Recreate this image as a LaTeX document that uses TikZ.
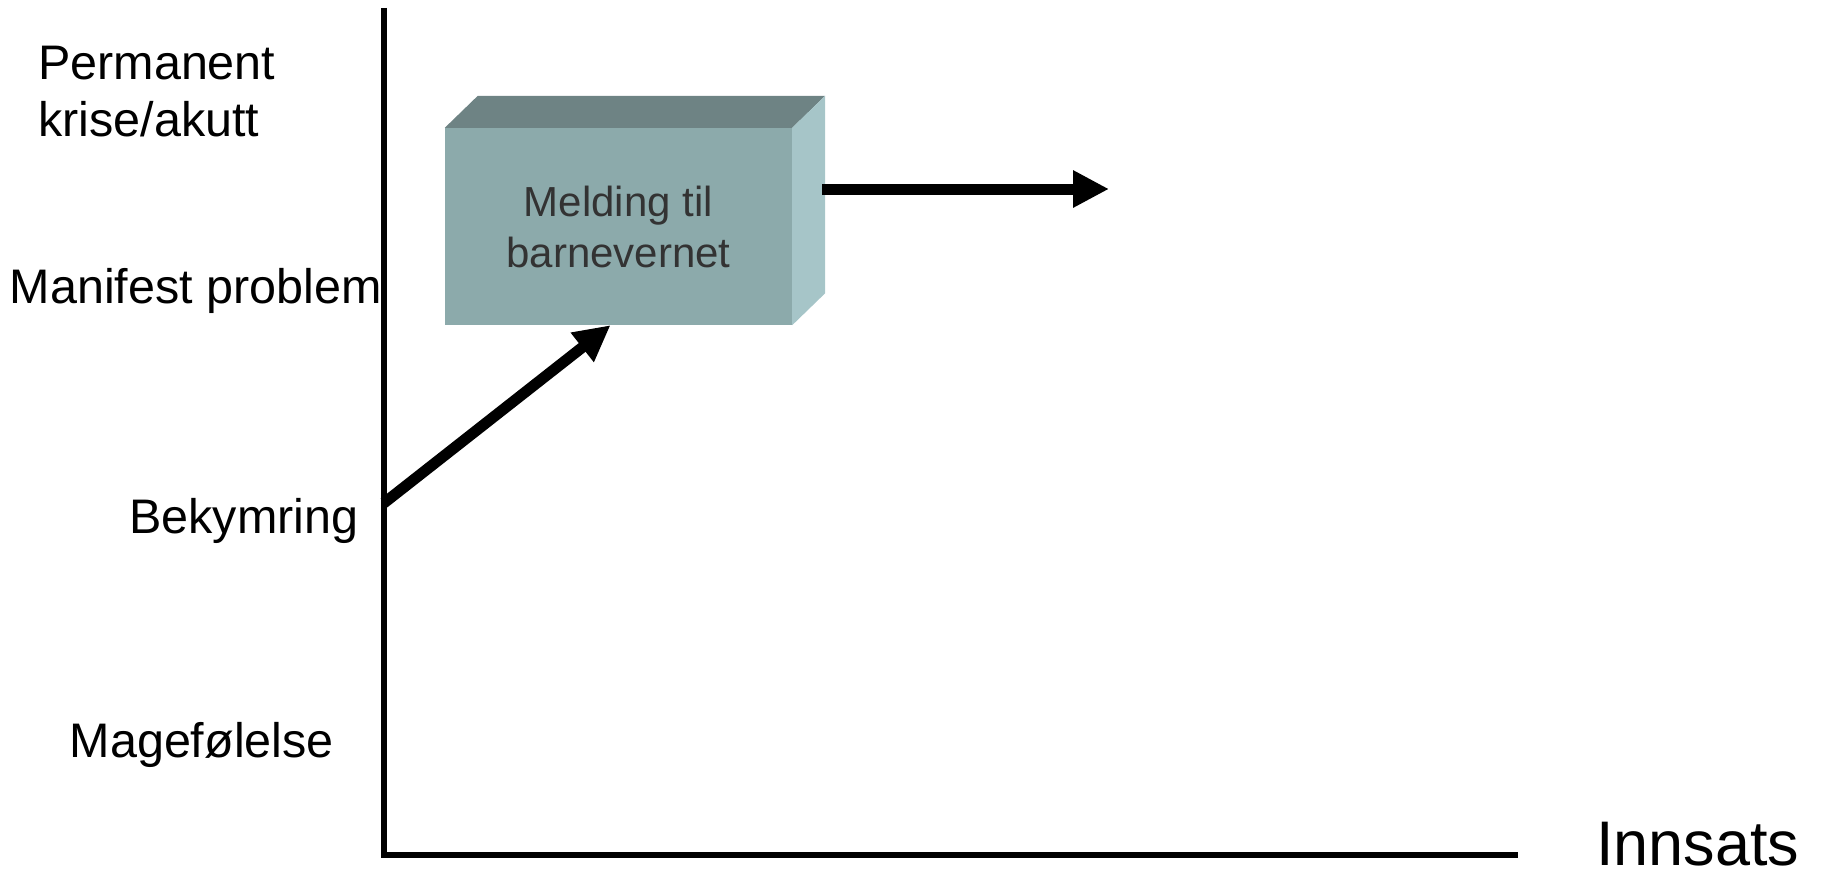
\documentclass[tikz,border=0pt]{standalone}
\usepackage{fontspec}
\setmainfont{Liberation Sans}
\usepackage{tikz}
\usetikzlibrary{arrows.meta,calc,positioning}
\definecolor{frontcol}{HTML}{8CAAAB}
\definecolor{topcol}{HTML}{6E8384}
\definecolor{sidecol}{HTML}{A6C5C8}
\definecolor{textcol}{HTML}{333333}
\tikzstyle{level} = [inner sep=0pt, align=left, font=\fontsize{48.5}{56}\selectfont]
\tikzstyle{block} = [rectangle, minimum width=347pt, minimum height=197pt, inner sep=0pt, text centered, fill=frontcol, text=textcol, align=center, font=\fontsize{42}{51}\selectfont]
\tikzstyle{axis} = [line width=6pt, line join=miter]
\tikzstyle{flow} = [->, line width=11pt]

\begin{document}
\begin{tikzpicture}[x=1pt,y=-1pt,>={Triangle[length=36pt,width=35pt]}]
            \useasboundingbox (0,0) rectangle (1825,872);
            % axes
            \coordinate (top) at (384,8);
            \coordinate (origo) at (384,855);
            \coordinate (xend) at (1518,855);
            \draw[axis] (top) -- (origo) -- (xend);

            % levels
            \node (Permanent) [level, anchor=base west] at (38,136) {Permanent\\krise/akutt};
            \node (Manifest) [level, anchor=base west] at (9.5,303) {Manifest problem};
            \node (Bekymring) [level, anchor=base west] at (129,533) {Bekymring};
            \node (Magefolelse) [level, anchor=base west] at (69.5,757) {Magefølelse};
            \node (Innsats) [inner sep=0pt, anchor=base west, font=\fontsize{63}{63}\selectfont] at (1596,865) {Innsats};

            % box
            \node (Melding) [block] at (618.5,226.5) {Melding til\\barnevernet};
            \fill[topcol] (Melding.north west) -- ([shift={(33,-32)}]Melding.north west)
                -- ([shift={(33,-32)}]Melding.north east) -- (Melding.north east) -- cycle;
            \fill[sidecol] (Melding.north east) -- ([shift={(33,-32)}]Melding.north east)
                -- ([shift={(33,-32)}]Melding.south east) -- (Melding.south east) -- cycle;

            % arrows
            \coordinate (bek) at (384,503);
            \coordinate (tiltak) at (1109,189);
            \draw[flow] (bek) -- ([xshift=-8pt]Melding.south);
            \draw[flow] ([shift={(30,-37.5)}]Melding.east) -- (tiltak);

        \end{tikzpicture}
\end{document}
